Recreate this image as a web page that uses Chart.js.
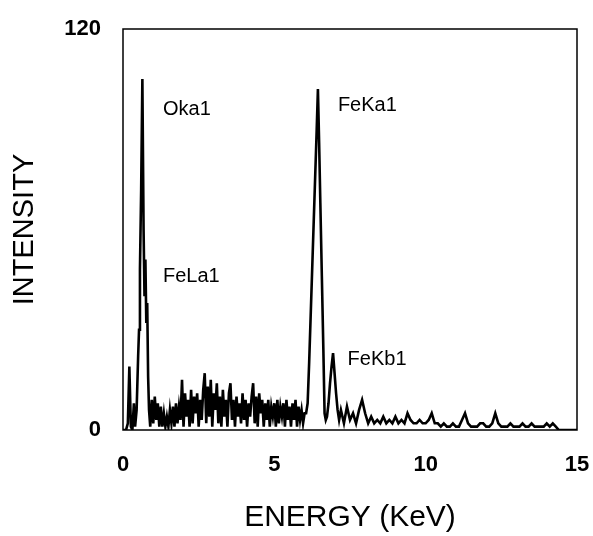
<!DOCTYPE html>
<html>
<head>
<meta charset="utf-8">
<script src="https://cdn.jsdelivr.net/npm/chart.js@4.4.1/dist/chart.umd.min.js"></script>
<style>
  html, body { margin: 0; padding: 0; background: #fff; }
  #wrap { width: 593px; height: 536px; }
</style>
</head>
<body>
<div id="wrap"><canvas id="myChart" width="593" height="536"></canvas></div>
<script>
// spectrum, in segments (energy in keV, intensity in counts)
var lowEnergy = [0.00, 0.05, 0.10, 0.16, 0.21, 0.26, 0.31, 0.36, 0.40, 0.45, 0.50, 0.53,
                 0.56, 0.60, 0.64, 0.68, 0.71, 0.74, 0.77, 0.80, 0.83, 0.86];
var lowCounts = [0, 0, 0, 2, 19, 1, 0, 8, 1, 6, 22, 30,
                 48, 72, 105, 60, 40, 51, 32, 38, 16, 6];

var bgEnergy = [0.90, 0.95, 1.00, 1.05, 1.10, 1.15, 1.20, 1.25, 1.30, 1.35, 1.40, 1.45,
                1.50, 1.55, 1.60, 1.65, 1.70, 1.75, 1.80, 1.85, 1.90, 1.95, 2.00, 2.05,
                2.10, 2.15, 2.20, 2.25, 2.30, 2.35, 2.40, 2.45, 2.50, 2.55, 2.60, 2.65,
                2.70, 2.75, 2.80, 2.85, 2.90, 2.95, 3.00, 3.05, 3.10, 3.15, 3.20, 3.25,
                3.30, 3.35, 3.40, 3.45, 3.50, 3.55, 3.60, 3.65, 3.70, 3.75, 3.80, 3.85,
                3.90, 3.95, 4.00, 4.05, 4.10, 4.15, 4.20, 4.25, 4.30, 4.35, 4.40, 4.45,
                4.50, 4.55, 4.60, 4.65, 4.70, 4.75, 4.80, 4.85, 4.90, 4.95, 5.00, 5.05,
                5.10, 5.15, 5.20, 5.25, 5.30, 5.35, 5.40, 5.45, 5.50, 5.55, 5.60, 5.65,
                5.70, 5.75, 5.80, 5.85, 5.90, 5.95, 6.00];
var bgCounts = [1, 9, 2, 10, 3, 8, 1, 7, 1, 5, 1, 4,
                1, 6, 2, 7, 1, 8, 2, 7, 3, 15, 1, 11,
                4, 9, 1, 12, 2, 10, 5, 11, 1, 9, 3, 12,
                17, 2, 13, 4, 15, 1, 11, 6, 14, 2, 10, 1,
                12, 4, 9, 1, 11, 14, 3, 9, 1, 10, 4, 8,
                2, 11, 3, 9, 1, 8, 4, 10, 14, 2, 10, 1,
                11, 5, 9, 1, 8, 3, 9, 1, 7, 4, 8, 1,
                9, 2, 7, 4, 8, 1, 9, 3, 7, 1, 8, 3,
                9, 1, 7, 3, 6, 2, 5];

var feKEnergy = [6.05, 6.10, 6.15, 6.20, 6.25, 6.30, 6.35, 6.40, 6.44, 6.48, 6.52, 6.57,
                 6.62, 6.66, 6.70, 6.74, 6.79, 6.84, 6.89, 6.94, 6.99, 7.04, 7.09, 7.14];
var feKCounts = [5, 8, 20, 34, 48, 62, 76, 90, 102, 86, 68, 46,
                 24, 5, 3, 4, 8, 14, 19, 23, 17, 11, 6, 3];

var tailEnergy = [7.2, 7.3, 7.4, 7.5, 7.6, 7.7, 7.8, 7.9, 8.0, 8.1,
                  8.2, 8.3, 8.4, 8.5, 8.6, 8.7, 8.8, 8.9, 9.0, 9.1,
                  9.2, 9.3, 9.4, 9.5, 9.6, 9.7, 9.8, 9.9, 10.0, 10.1,
                  10.2, 10.3, 10.4, 10.5, 10.6, 10.7, 10.8, 10.9, 11.0, 11.1,
                  11.2, 11.3, 11.4, 11.5, 11.6, 11.7, 11.8, 11.9, 12.0, 12.1,
                  12.2, 12.3, 12.4, 12.5, 12.6, 12.7, 12.8, 12.9, 13.0, 13.1,
                  13.2, 13.3, 13.4, 13.5, 13.6, 13.7, 13.8, 13.9, 14.0, 14.1,
                  14.2, 14.3, 14.4, 14.5, 14.6, 14.7, 14.8, 14.9, 15.0];
var tailCounts = [6, 2, 7, 3, 5, 2, 6, 9, 5, 2,
                  4, 2, 3, 2, 4, 2, 3, 2, 4, 2,
                  3, 2, 5, 3, 2, 2, 3, 2, 2, 3,
                  5, 2, 2, 1, 2, 1, 1, 2, 1, 1,
                  3, 5, 2, 1, 1, 1, 2, 2, 1, 1,
                  2, 5, 2, 1, 1, 1, 2, 1, 1, 1,
                  2, 1, 1, 2, 1, 1, 1, 1, 2, 1,
                  2, 1, 0, 0, 0, 0, 0, 0, 0];

var xTicks = [0, 5, 10, 15];
var yTicks = [0, 120];

var peakNames = ["Oka1", "FeLa1", "FeKa1", "FeKb1"];
var peakAnchorE = [1.32, 1.32, 7.1, 7.42];
var peakAnchorI = [96, 46, 97, 21];

var energies = lowEnergy.concat(bgEnergy, feKEnergy, tailEnergy);
var counts = lowCounts.concat(bgCounts, feKCounts, tailCounts);

var points = [];
for (var i = 0; i < energies.length; i++) {
    points.push({x: energies[i], y: counts[i]});
}

var FONT = "'Liberation Sans', Arial, sans-serif";

// frame round the plot and the peak names
var framePlugin = {
    id: 'frame',
    afterDraw: function(chart) {
        var ctx = chart.ctx;
        var a = chart.chartArea;
        var xs = chart.scales.x, ys = chart.scales.y;
        ctx.save();
        ctx.strokeStyle = '#000';
        ctx.lineWidth = 1.5;
        ctx.strokeRect(a.left, a.top, a.right - a.left, a.bottom - a.top);
        ctx.fillStyle = '#000';
        ctx.font = '20px ' + FONT;
        ctx.textAlign = 'left';
        ctx.textBaseline = 'middle';
        for (var k = 0; k < peakNames.length; k++) {
            ctx.fillText(peakNames[k], xs.getPixelForValue(peakAnchorE[k]), ys.getPixelForValue(peakAnchorI[k]));
        }
        ctx.restore();
    }
};

new Chart("myChart", {
    type: "line",
    data: {
        datasets: [{
            data: points,
            borderColor: '#000',
            borderWidth: 2.6,
            pointRadius: 0,
            tension: 0,
            fill: false
        }]
    },
    options: {
        responsive: false,
        animation: false,
        layout: {padding: {top: 29, right: 16, bottom: 0, left: 0}},
        plugins: {legend: {display: false}, tooltip: {enabled: false}},
        scales: {
            x: {
                type: 'linear',
                min: 0,
                max: 15,
                afterBuildTicks: function(s) { s.ticks = xTicks.map(function(v) { return {value: v}; }); },
                afterFit: function(s) { s.height = 106; s.paddingLeft = 0; s.paddingRight = 0; },
                grid: {display: false, drawTicks: false},
                border: {display: false},
                ticks: {color: '#000', font: {family: FONT, size: 22, weight: 'bold'}, padding: 22, maxRotation: 0},
                title: {display: true, text: 'ENERGY (KeV)', color: '#000',
                        font: {family: FONT, size: 30}, padding: {top: 0, bottom: 0}}
            },
            y: {
                type: 'linear',
                min: 0,
                max: 120,
                afterBuildTicks: function(s) { s.ticks = yTicks.map(function(v) { return {value: v}; }); },
                afterFit: function(s) { s.width = 123; s.paddingTop = 0; s.paddingBottom = 0; },
                grid: {display: false, drawTicks: false},
                border: {display: false},
                ticks: {color: '#000', font: {family: FONT, size: 22, weight: 'bold'}, padding: 22},
                title: {display: true, text: 'INTENSITY', color: '#000',
                        font: {family: FONT, size: 29}, padding: {top: 8, bottom: 0}}
            }
        }
    },
    plugins: [framePlugin]
});
</script>
</body>
</html>
